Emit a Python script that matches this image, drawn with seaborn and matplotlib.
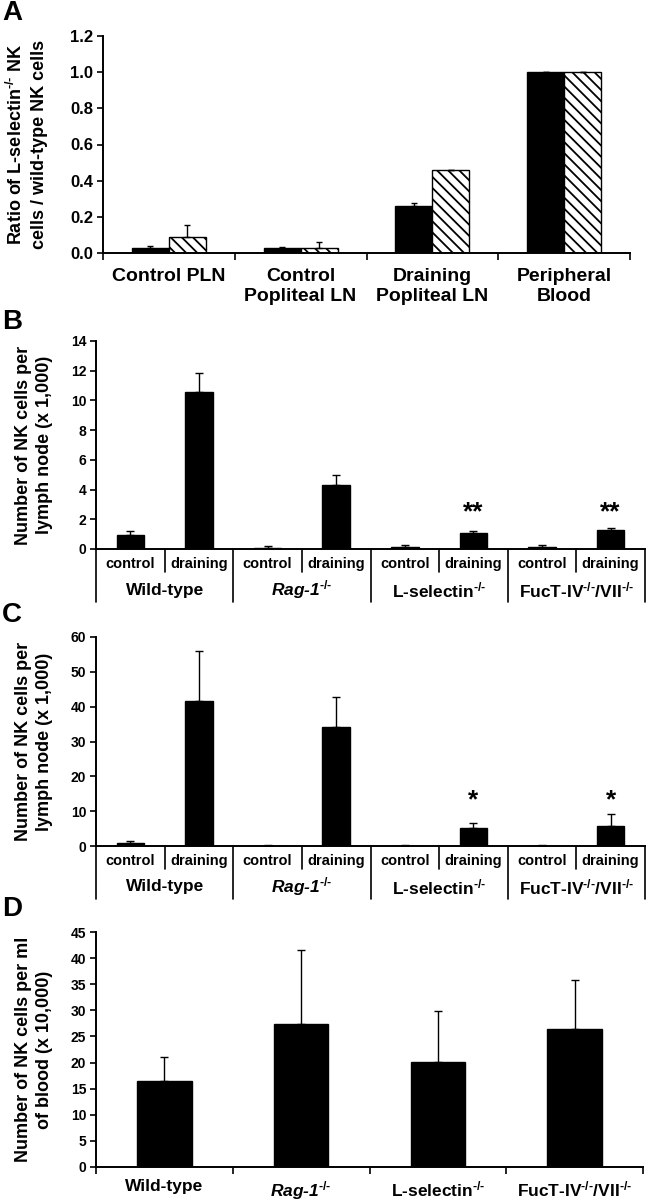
import numpy as np
import pandas as pd
import matplotlib
matplotlib.use("Agg")
import matplotlib.pyplot as plt
import seaborn as sns
from matplotlib.ticker import FormatStrFormatter
from matplotlib.transforms import blended_transform_factory

# ---------------- data ----------------
a_categories = ["Control PLN", "Control\nPopliteal LN", "Draining\nPopliteal LN", "Peripheral\nBlood"]
a_solid = [0.03, 0.03, 0.26, 1.00]
a_solid_err = [0.008, 0.004, 0.014, 0.003]
a_hatched = [0.09, 0.03, 0.46, 1.00]
a_hatched_err = [0.067, 0.031, 0.0, 0.0]

group_keys = ["Wild-type", "Rag-1", "L-selectin", "FucT-IV/VII"]
group_labels = ["Wild-type",
                r"Rag-1$^{\text{-/-}}$",
                r"L-selectin$^{\text{-/-}}$",
                r"FucT-IV$^{\text{-/-}}$/VII$^{\text{-/-}}$"]
group_italic = [False, True, False, False]
conditions = ["control", "draining"]

b_control = [0.95, 0.05, 0.16, 0.16]
b_control_err = [0.28, 0.18, 0.14, 0.14]
b_draining = [10.6, 4.3, 1.07, 1.3]
b_draining_err = [1.25, 0.7, 0.17, 0.12]

c_control = [1.0, 0.1, 0.1, 0.1]
c_control_err = [0.4, 0.2, 0.2, 0.2]
c_draining = [41.5, 34.3, 5.3, 5.7]
c_draining_err = [14.4, 8.6, 1.3, 3.6]

d_values = [16.4, 27.3, 20.2, 26.4]
d_err = [4.7, 14.2, 9.6, 9.4]

# ---------------- style ----------------
sns.set_theme(style="ticks")
plt.rcParams.update({
    "font.family": ["Liberation Sans", "DejaVu Sans"],
    "font.weight": "bold",
    "axes.labelweight": "bold",
    "axes.edgecolor": "black",
    "axes.labelcolor": "black",
    "text.color": "black",
    "xtick.color": "black",
    "ytick.color": "black",
    "axes.linewidth": 1.4,
    "hatch.linewidth": 1.3,
    "mathtext.fontset": "custom",
    "mathtext.rm": "Liberation Sans:bold",
    "mathtext.bf": "Liberation Sans:bold",
    "mathtext.it": "Liberation Sans:italic:bold",
    "mathtext.sf": "Liberation Sans:bold",
})

W, H = 648, 1200
fig = plt.figure(figsize=(W / 100, H / 100), dpi=100)


def rect(l, t, r, b):
    return [l / W, 1 - b / H, (r - l) / W, (b - t) / H]


def style_y(ax, ymax, step, fs, fmt=None):
    ax.set_ylim(0, ymax)
    ax.set_yticks(np.arange(0, ymax + step / 2, step))
    if fmt:
        ax.yaxis.set_major_formatter(FormatStrFormatter(fmt))
    ax.tick_params(axis="y", direction="out", length=4, width=1.2, left=True, pad=3, labelsize=fs)
    for lab in ax.get_yticklabels():
        lab.set_fontweight("bold")
    sns.despine(ax=ax)


def set_ylab(ax, text, xfrac, ls):
    ax.set_ylabel(text, fontsize=13, fontweight="bold", linespacing=ls)
    ax.yaxis.set_label_coords(xfrac, 0.5)
    ax.yaxis.label.set_verticalalignment("center")


def add_err(ax, container, vals, errs, cap):
    xs = [p.get_x() + p.get_width() / 2 for p in container]
    ax.errorbar(xs, vals, yerr=[np.zeros(len(vals)), errs], fmt="none",
                ecolor="black", elinewidth=1.0, capsize=cap, capthick=1.0, zorder=3)
    return xs


# ---------------- Panel A ----------------
axA = fig.add_axes(rect(103, 36, 630, 253))
dfA = pd.DataFrame({
    "category": a_categories * 2,
    "series": ["knockout"] * 4 + ["ratio"] * 4,
    "value": a_solid + a_hatched,
})
sns.barplot(data=dfA, x="category", y="value", hue="series", order=a_categories,
            hue_order=["knockout", "ratio"], palette={"knockout": "black", "ratio": "white"},
            edgecolor="black", linewidth=1.0, width=0.56, gap=0, saturation=1,
            errorbar=None, legend=False, ax=axA)
for p in axA.containers[1]:
    p.set_hatch("\\\\\\")
add_err(axA, axA.containers[0], a_solid, a_solid_err, 2)
add_err(axA, axA.containers[1], a_hatched, a_hatched_err, 2)
axA.set_xlim(-0.5, 3.5)
style_y(axA, 1.2, 0.2, 12, "%.1f")
axA.set_xlabel("")
axA.set_xticks(range(4))
axA.set_xticklabels(a_categories, fontsize=14, fontweight="bold")
axA.tick_params(axis="x", which="major", length=0, pad=11)
axA.set_xticks(np.arange(-0.5, 4, 1), minor=True)
axA.tick_params(axis="x", which="minor", direction="out", length=5, width=1.2, bottom=True)
set_ylab(axA, "Ratio of L-selectin$^{\\text{-/-}}$ NK\ncells / wild-type NK cells", -0.145, 1.4)


# ---------------- Panels B & C ----------------
def lymph_panel(ax, control, control_err, draining, draining_err, ymax, step, star, star_y):
    keys = [f"{g}|{c}" for g in group_keys for c in conditions]
    vals = [v for pair in zip(control, draining) for v in pair]
    errs = [v for pair in zip(control_err, draining_err) for v in pair]
    df = pd.DataFrame({"key": keys, "value": vals})
    sns.barplot(data=df, x="key", y="value", order=keys, color="black", edgecolor="black",
                width=0.4, saturation=1, errorbar=None, ax=ax)
    xs = add_err(ax, ax.containers[0], vals, errs, 3)
    ax.set_xlim(-0.5, len(keys) - 0.5)
    style_y(ax, ymax, step, 10)
    ax.set_xlabel("")
    ax.set_xticks(range(len(keys)))
    ax.set_xticklabels([c for g in group_keys for c in conditions], fontsize=10.5, fontweight="bold")
    ax.tick_params(axis="x", length=0, pad=5.5)
    hpx = ax.get_position().height * H
    trans = blended_transform_factory(ax.transData, ax.transAxes)
    for i, b in enumerate(np.arange(-0.5, len(keys), 1)):
        depth = 23 if i % 2 == 1 else 53
        ax.plot([b, b], [0, -depth / hpx], transform=trans, clip_on=False, color="black", lw=1.2)
    for gi, (lab, it) in enumerate(zip(group_labels, group_italic)):
        ax.text(2 * gi + 0.5, -41 / hpx, lab, transform=trans, ha="center", va="center",
                fontsize=12.5, fontweight="bold", fontstyle="italic" if it else "normal")
    for gi in (2, 3):
        ax.text(xs[2 * gi + 1], star_y, star, ha="center", va="baseline", fontsize=19, fontweight="bold")
    set_ylab(ax, "Number of NK cells per\nlymph node (x 1,000)", -0.113, 1.35)


axB = fig.add_axes(rect(96, 341, 645, 549))
lymph_panel(axB, b_control, b_control_err, b_draining, b_draining_err, 14, 2, "**", 2.0)

axC = fig.add_axes(rect(96, 637, 645, 846))
lymph_panel(axC, c_control, c_control_err, c_draining, c_draining_err, 60, 10, "*", 11.2)

# ---------------- Panel D ----------------
axD = fig.add_axes(rect(96, 932, 643, 1167))
dfD = pd.DataFrame({"group": group_keys, "value": d_values})
sns.barplot(data=dfD, x="group", y="value", order=group_keys, color="black", edgecolor="black",
            width=0.4, saturation=1, errorbar=None, ax=axD)
add_err(axD, axD.containers[0], d_values, d_err, 3)
axD.set_xlim(-0.5, 3.5)
style_y(axD, 45, 5, 10)
axD.set_xlabel("")
axD.set_xticks(range(4))
axD.set_xticklabels(group_labels, fontsize=12.5, fontweight="bold")
for lab, it in zip(axD.get_xticklabels(), group_italic):
    if it:
        lab.set_fontstyle("italic")
axD.tick_params(axis="x", which="major", length=0, pad=9)
axD.set_xticks(np.arange(-0.5, 4, 1), minor=True)
axD.tick_params(axis="x", which="minor", direction="out", length=5, width=1.2, bottom=True)
set_ylab(axD, "Number of NK cells per ml\nof blood (x 10,000)", -0.113, 1.35)

# ---------------- panel letters ----------------
for letter, ytop in zip("ABCD", [0, 309, 602, 896]):
    fig.text(2 / W, 1 - ytop / H, letter, fontsize=20, fontweight="bold", ha="left", va="top")

fig.savefig("out.png", dpi=100)
